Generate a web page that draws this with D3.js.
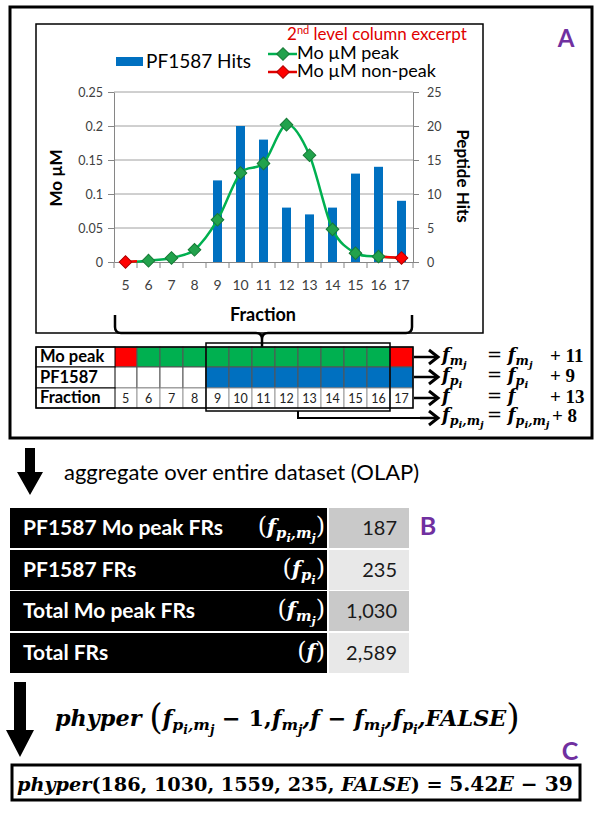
<!DOCTYPE html>
<html><head><meta charset="utf-8">
<script src="https://cdn.jsdelivr.net/npm/d3@7"></script>
<style>body{margin:0;background:#fff} svg{display:block} text{white-space:pre}</style>
</head><body>
<svg id="c" width="600" height="814"></svg>
<script>
// ---------- data ----------
const fractions = [5,6,7,8,9,10,11,12,13,14,15,16,17];
const peptideHits = [0,0,0,0,12,20,18,8,7,8,13,14,9];
const moUM = [0,0.002,0.006,0.018,0.062,0.131,0.145,0.202,0.157,0.048,0.013,0.008,0.006];
const moPeak = [0,1,1,1,1,1,1,1,1,1,1,1,0];
const leftTicks = [0,0.05,0.1,0.15,0.2,0.25];
const rightTicks = [0,5,10,15,20,25];
const excerpt = [9,16];
const rowLabels = ["Mo peak","PF1587","Fraction"];
const increments = ["+ 11","+ 9","+ 13","+ 8"];
const bLabels = ["PF1587 Mo peak FRs","PF1587 FRs","Total Mo peak FRs","Total FRs"];
const bValues = ["187","235","1,030","2,589"];
const phyperArgs = ["186","1030","1559","235"];
const phyperResult = ["5.42","E","39"];

// ---------- helpers ----------
const SANS = "Lato, 'Open Sans', sans-serif";
const MATH = "'DejaVu Serif', 'Liberation Serif', serif";
const MATH2 = "'Liberation Serif', serif";
const GREEN = "#00b050", RED = "#ff0000", BLUE = "#0070c0", PURPLE = "#7030a0";
const svg = d3.select("#c");

function rich(sel, segs, base){
  const lvDy=[0,0.2,0.38], lvFs=[1,0.7,0.55];
  let cur=0;
  segs.forEach(s=>{
    const lv=s.lv||0;
    const off=lvDy[lv]*base+(s.shift||0);
    const ts=sel.append("tspan").text(s.t).attr("font-size",(s.fs||lvFs[lv]*base));
    if(off!==cur){ts.attr("dy",off-cur);cur=off;}
    if(s.fst) ts.attr("font-style",s.fst);
    if(s.fw) ts.attr("font-weight",s.fw);
  });
  return sel;
}
function fS(parts){
  const out=[{t:"f"}];
  parts.forEach((p,k)=>{
    if(k>0) out.push({t:",",lv:1});
    out.push({t:p[0],lv:1});
    out.push({t:p[1],lv:2});
  });
  return out;
}
const F_PM=[["p","i"],["m","j"]], F_M=[["m","j"]], F_P=[["p","i"]];
function fitWidth(sel,w){
  const cur=sel.node().getComputedTextLength();
  const fs=parseFloat(sel.attr("font-size"));
  const k=w/cur;
  sel.attr("font-size",fs*k);
  sel.selectAll("tspan").each(function(){
    const t=d3.select(this);
    t.attr("font-size",parseFloat(t.attr("font-size"))*k);
    if(t.attr("dy")!=null) t.attr("dy",parseFloat(t.attr("dy"))*k);
  });
}

// ---------- panel A frame ----------
svg.append("rect").attr("x",10).attr("y",7).attr("width",582).attr("height",431)
  .attr("fill","none").attr("stroke","#000").attr("stroke-width",3);
svg.append("rect").attr("x",36).attr("y",24).attr("width",447).attr("height",309)
  .attr("fill","none").attr("stroke","#000").attr("stroke-width",1.5);
svg.append("text").attr("x",566).attr("y",47).attr("text-anchor","middle")
  .attr("font-family",SANS).attr("font-weight","bold").attr("font-size",24)
  .attr("fill",PURPLE).text("A");

// ---------- chart ----------
const x = d3.scaleBand().domain(fractions).range([114,413]).padding(0);
const yL = d3.scaleLinear().domain([0,0.25]).range([262,92]);
const yR = d3.scaleLinear().domain([0,25]).range([262,92]);
const g = svg.append("g");

g.selectAll("line.grid").data(leftTicks.slice(1)).join("line")
  .attr("x1",114).attr("x2",413).attr("y1",d=>yL(d)).attr("y2",d=>yL(d))
  .attr("stroke","#a0a0a0").attr("stroke-width",1);

const axL = g.append("g").attr("transform","translate(114,0)")
  .call(d3.axisLeft(yL).tickValues(leftTicks).tickSize(6).tickSizeOuter(0).tickPadding(5).tickFormat(d=>String(d)));
const axR = g.append("g").attr("transform","translate(413,0)")
  .call(d3.axisRight(yR).tickValues(rightTicks).tickSize(6).tickSizeOuter(0).tickPadding(8));
const axB = g.append("g").attr("transform","translate(0,262)")
  .call(d3.axisBottom(x).tickSize(0).tickSizeOuter(0).tickPadding(18));
[axL,axR,axB].forEach(a=>{
  a.selectAll("path,line").attr("stroke","#868686");
  a.selectAll("text").attr("font-family",SANS).attr("font-size",12.5).attr("fill","#404040");
});
axB.selectAll("text").attr("font-size",14);
g.selectAll("line.xt").data(fractions.concat([null])).join("line")
  .attr("x1",(d,i)=>114+i*x.bandwidth()).attr("x2",(d,i)=>114+i*x.bandwidth())
  .attr("y1",262).attr("y2",268).attr("stroke","#868686");

const bw=9;
g.selectAll("rect.bar").data(fractions.map((f,i)=>({f,v:peptideHits[i]})).filter(d=>d.v>0)).join("rect")
  .attr("x",d=>x(d.f)+x.bandwidth()/2-bw/2).attr("width",bw)
  .attr("y",d=>yR(d.v)).attr("height",d=>yR(0)-yR(d.v)).attr("fill",BLUE);

const pts = fractions.map((f,i)=>({f,v:moUM[i],peak:moPeak[i]}));
const cx=d=>x(d.f)+x.bandwidth()/2;
const line = d3.line().x(cx).y(d=>yL(d.v)).curve(d3.curveCardinal.tension(0.1));
g.append("path").datum(pts).attr("d",line).attr("fill","none").attr("stroke",GREEN).attr("stroke-width",2.5);
const straight = d3.line().x(d=>d.x).y(d=>d.y);
const p0={x:cx(pts[0]),y:yL(pts[0].v)}, p1={x:cx(pts[1]),y:yL(pts[1].v)};
g.append("path").attr("d",straight([p0,{x:(p0.x+p1.x)/2,y:(p0.y+p1.y)/2}])).attr("stroke",RED).attr("stroke-width",2.5).attr("fill","none");
const q0={x:cx(pts[11]),y:yL(pts[11].v)}, q1={x:cx(pts[12]),y:yL(pts[12].v)};
g.append("path").attr("d",straight([q0,q1])).attr("stroke",RED).attr("stroke-width",2.5).attr("fill","none");
const diamond = d3.symbol(d3.symbolSquare,80);
g.selectAll("path.mk").data(pts).join("path")
  .attr("d",diamond).attr("transform",d=>`translate(${cx(d)},${yL(d.v)}) rotate(45)`)
  .attr("fill",d=>d.peak?"#22a24c":RED).attr("stroke",d=>d.peak?"#167a36":"#b00000").attr("stroke-width",1);

svg.append("text").attr("transform","translate(62,178) rotate(-90)").attr("text-anchor","middle")
  .attr("font-family",SANS).attr("font-weight","bold").attr("font-size",17).text("Mo µM");
svg.append("text").attr("transform","translate(457,176) rotate(90)").attr("text-anchor","middle")
  .attr("font-family",SANS).attr("font-weight","bold").attr("font-size",17).text("Peptide Hits");
svg.append("text").attr("x",263).attr("y",321).attr("text-anchor","middle")
  .attr("font-family",SANS).attr("font-weight","bold").attr("font-size",18).text("Fraction");

// legend
svg.append("rect").attr("x",116).attr("y",57).attr("width",27).attr("height",9).attr("fill",BLUE);
svg.append("text").attr("x",146).attr("y",68).attr("font-family",SANS).attr("font-size",19).text("PF1587 Hits");
[[54,"Mo µM peak",GREEN,"#22a24c","#167a36"],[72,"Mo µM non-peak","#e00000",RED,"#b00000"]].forEach(l=>{
  svg.append("line").attr("x1",268).attr("x2",297).attr("y1",l[0]).attr("y2",l[0]).attr("stroke",l[2]).attr("stroke-width",2.5);
  svg.append("path").attr("d",diamond).attr("transform",`translate(283,${l[0]}) rotate(45)`).attr("fill",l[3]).attr("stroke",l[4]);
  svg.append("text").attr("x",297).attr("y",l[0]+5).attr("font-family",SANS).attr("font-size",18).text(l[1]);
});
const tt=svg.append("text").attr("x",287).attr("y",40).attr("font-family",SANS).attr("font-size",17).attr("fill","#e00000");
tt.append("tspan").text("2");
tt.append("tspan").attr("dy",-6).attr("font-size",11).text("nd");
tt.append("tspan").attr("dy",6).text(" level column excerpt");

// brace
svg.append("path").attr("d","M115,315 L115,327 Q115,333 121,333 L256,333 Q262,333 262,339 L262,355 M412,315 L412,327 Q412,333 406,333 L268,333 Q262,333 262,339")
  .attr("fill","none").attr("stroke","#000").attr("stroke-width",2.5);

// ---------- table ----------
const rowY=[347,367,388,408];
const tab=svg.append("g");
fractions.forEach((f,i)=>{
  tab.append("rect").attr("x",x(f)).attr("y",rowY[0]).attr("width",x.bandwidth()).attr("height",rowY[1]-rowY[0])
    .attr("fill",moPeak[i]?GREEN:RED).attr("stroke","#555").attr("stroke-width",1);
  tab.append("rect").attr("x",x(f)).attr("y",rowY[1]).attr("width",x.bandwidth()).attr("height",rowY[2]-rowY[1])
    .attr("fill",peptideHits[i]>0?BLUE:"#fff").attr("stroke","#555").attr("stroke-width",1);
  tab.append("rect").attr("x",x(f)).attr("y",rowY[2]).attr("width",x.bandwidth()).attr("height",rowY[3]-rowY[2])
    .attr("fill","#fff").attr("stroke","#999").attr("stroke-width",1);
  tab.append("text").attr("x",x(f)+x.bandwidth()/2).attr("y",rowY[3]-5).attr("text-anchor","middle")
    .attr("font-family",SANS).attr("font-size",12.5).attr("fill","#222").text(f);
});
rowLabels.forEach((r,i)=>{
  tab.append("rect").attr("x",36).attr("y",rowY[i]).attr("width",79).attr("height",rowY[i+1]-rowY[i])
    .attr("fill","#fff").attr("stroke","#000").attr("stroke-width",1);
  tab.append("text").attr("x",40).attr("y",rowY[i+1]-5).attr("font-family",SANS).attr("font-weight","bold")
    .attr("font-size",16.5).text(r);
});
tab.append("rect").attr("x",36).attr("y",rowY[0]).attr("width",377).attr("height",rowY[3]-rowY[0])
  .attr("fill","none").attr("stroke","#000").attr("stroke-width",1.5);
tab.append("rect").attr("x",x(excerpt[0])).attr("y",343).attr("width",x(excerpt[1])+x.bandwidth()-x(excerpt[0])).attr("height",68)
  .attr("fill","none").attr("stroke","#000").attr("stroke-width",1.5);

// arrows
const arrowY=[357,377,398,418];
function arrow(x1,y,x2){
  svg.append("line").attr("x1",x1).attr("x2",x2-2).attr("y1",y).attr("y2",y).attr("stroke","#000").attr("stroke-width",2.5);
  svg.append("path").attr("d",`M${x2-9},${y-7} L${x2},${y} L${x2-9},${y+7}`).attr("fill","none").attr("stroke","#000").attr("stroke-width",3);
}
arrowY.slice(0,3).forEach(y=>arrow(414,y,438));
svg.append("path").attr("d",`M298,411 L298,418 L436,418`).attr("fill","none").attr("stroke","#000").attr("stroke-width",2);
arrow(420,418,438);

// formulas
const fBase=[361,381,402,421];
const fParts=[F_M,F_P,[],F_PM];
fParts.forEach((p,i)=>{
  const lhs = p.length?fS(p):[{t:"f"}];
  rich(svg.append("text").attr("x",442).attr("y",fBase[i]).attr("font-family",MATH).attr("font-style","italic")
    .attr("font-weight","bold").attr("font-size",18),lhs,18);
  rich(svg.append("text").attr("x",487).attr("y",fBase[i]).attr("font-family",MATH).attr("font-style","italic")
    .attr("font-weight","bold").attr("font-size",18),[{t:"= ",fst:"normal",fw:"normal"}].concat(lhs),18);
  svg.append("text").attr("x",i===3?552:550).attr("y",fBase[i]+1).attr("font-family",MATH2).attr("font-weight","bold")
    .attr("font-size",19).text(increments[i]);
});

// ---------- arrow + aggregate ----------
function downArrow(cx,y0,y1,yTip,sw,hw){
  svg.append("path").attr("d",`M${cx-sw/2},${y0} L${cx+sw/2},${y0} L${cx+sw/2},${y1} L${cx+hw/2},${y1} L${cx},${yTip} L${cx-hw/2},${y1} L${cx-sw/2},${y1} Z`).attr("fill","#000");
}
downArrow(30,448,472,495,10,26);
svg.append("text").attr("x",64).attr("y",480).attr("font-family",SANS).attr("font-size",22).text("aggregate over entire dataset (OLAP)");

// ---------- panel B ----------
const bY=[508,550,591,633];
const bMath=[F_PM,F_P,F_M,[]];
bLabels.forEach((l,i)=>{
  svg.append("rect").attr("x",10).attr("y",bY[i]).attr("width",317).attr("height",40).attr("fill","#000");
  svg.append("rect").attr("x",329).attr("y",bY[i]).attr("width",80).attr("height",40).attr("fill",i%2===0?"#c9c9c9":"#e8e8e8");
  svg.append("text").attr("x",23).attr("y",bY[i]+27).attr("font-family",SANS).attr("font-weight","bold")
    .attr("font-size",21).attr("fill","#fff").text(l);
  const segs=[{t:"(",fs:24,fst:"normal",fw:"normal"}].concat(bMath[i].length?fS(bMath[i]):[{t:"f"}]);
  segs.push({t:")",fs:24,fst:"normal",fw:"normal"});
  rich(svg.append("text").attr("x",325).attr("y",bY[i]+26).attr("text-anchor","end").attr("font-family",MATH)
    .attr("font-style","italic").attr("font-weight","bold").attr("font-size",21).attr("fill","#fff"),segs,21);
  svg.append("text").attr("x",397).attr("y",bY[i]+27).attr("text-anchor","end").attr("font-family",SANS)
    .attr("font-size",20).attr("fill","#1a1a1a").text(bValues[i]);
});
svg.append("text").attr("x",428).attr("y",535).attr("text-anchor","middle").attr("font-family",SANS)
  .attr("font-weight","bold").attr("font-size",25).attr("fill",PURPLE).text("B");

// ---------- panel C ----------
downArrow(20,682,730,757,12,28);
const topF=svg.append("text").attr("x",55).attr("y",726).attr("font-family",MATH).attr("font-style","italic")
  .attr("font-weight","bold").attr("font-size",22);
rich(topF,[{t:"phyper "},{t:"(",fs:34,fst:"normal",fw:"normal",shift:3}]
  .concat(fS(F_PM)).concat([{t:" − 1,",fst:"normal"}]).concat(fS(F_M)).concat([{t:",",lv:0},{t:"f − ",lv:0}])
  .concat(fS(F_M)).concat([{t:",",lv:0}]).concat(fS(F_P)).concat([{t:",",lv:0},{t:"FALSE",lv:0},{t:")",fs:34,fst:"normal",fw:"normal",shift:3}]),22);
fitWidth(topF,465);
svg.append("text").attr("x",570).attr("y",760).attr("text-anchor","middle").attr("font-family",SANS)
  .attr("font-weight","bold").attr("font-size",25).attr("fill",PURPLE).text("C");
svg.append("rect").attr("x",12).attr("y",765).attr("width",568).attr("height",35).attr("fill","none").attr("stroke","#000").attr("stroke-width",3);
const res=svg.append("text").attr("x",17).attr("y",791).attr("font-family",MATH).attr("font-weight","bold").attr("font-size",20);
rich(res,[{t:"phyper",fst:"italic"},{t:"("+phyperArgs.join(", ")+", "},{t:"FALSE",fst:"italic"},{t:") = "},
  {t:phyperResult[0],fs:21},{t:phyperResult[1],fs:21,fst:"italic"},{t:" − "+phyperResult[2],fs:21}],20);
fitWidth(res,556);
</script>
</body></html>
